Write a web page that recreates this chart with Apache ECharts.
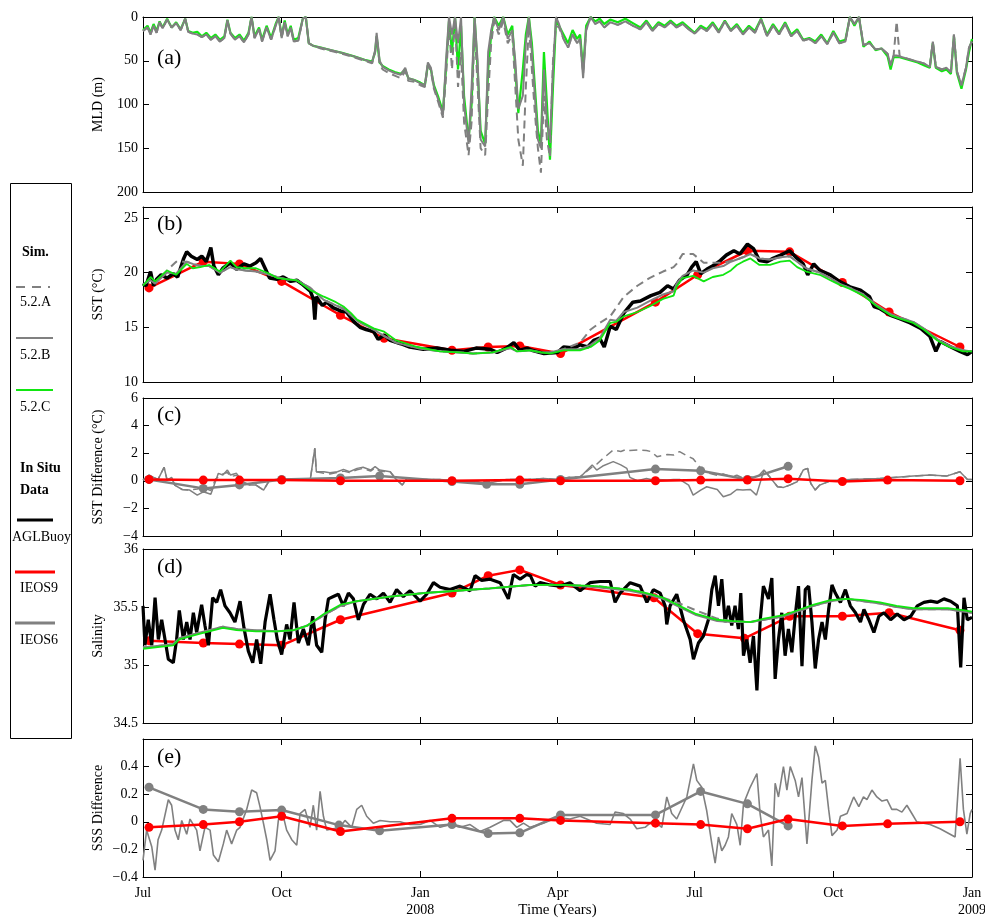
<!DOCTYPE html>
<html>
<head>
<meta charset="utf-8">
<script src="https://cdn.jsdelivr.net/npm/echarts@6/dist/echarts.min.js"></script>
<style>
html, body { margin: 0; padding: 0; background: #fff; }
#chart { width: 985px; height: 919px; }
</style>
</head>
<body>
<div id="chart"></div>
<script>
// all x values are days counted from 1 Jul 2007
var tickDays = [0, 92, 184, 275, 366, 458, 550];
var tickLabels = ['Jul', 'Oct', 'Jan\n2008', 'Apr', 'Jul', 'Oct', 'Jan\n2009'];

// (a) mixed layer depth, simulations 5.2.A / 5.2.B / 5.2.C
var mldDays = [0,3,5,7,9,11,13,16,19,22,
  25,28,30,33,36,39,42,45,48,51,
  54,56,58,61,64,67,70,72,74,77,
  79,82,85,88,90,92,94,96,98,100,
  103,106,108,110,113,118,125,132,140,147,
  152,154,155,157,159,163,167,171,174,176,
  180,184,187,189,191,193,196,199,201,203,
  205,207,209,211,213,216,218,220,222,224,
  227,229,231,233,236,239,242,245,247,249,
  252,254,256,258,260,262,264,266,268,270,
  272,274,276,279,282,285,288,290,292,294,
  297,300,303,306,310,315,320,325,330,334,
  338,342,346,350,354,358,362,366,370,374,
  378,382,386,390,394,398,402,406,410,414,
  418,422,426,430,434,438,442,446,450,454,
  458,462,466,469,472,475,478,482,486,490,
  494,496,498,500,502,506,510,514,518,522,
  524,526,530,533,536,538,540,543,546,548,
  550];
var mldC = [15,10,18,8,16,5,12,2,12,6,
  14,2,16,18,17,22,18,24,20,26,
  22,3,18,24,20,27,18,0,22,12,
  26,10,24,8,0,22,4,20,10,26,
  24,2,0,30,33,35,38,41,45,49,
  51,40,22,52,56,60,63,65,60,70,
  72,75,78,55,60,78,92,108,60,5,
  40,0,60,10,90,140,100,0,60,130,
  145,60,20,0,10,0,20,10,60,110,
  60,20,0,30,80,130,145,40,100,163,
  80,5,10,20,30,15,25,20,60,10,
  0,5,2,8,3,6,2,7,12,4,
  14,6,10,4,10,6,12,18,10,14,
  6,16,4,15,8,18,10,16,2,20,
  8,18,6,20,14,26,24,28,20,30,
  16,28,26,0,10,0,34,28,38,36,
  45,60,46,46,46,48,50,52,55,58,
  30,58,62,60,65,22,64,82,60,40,
  25];
var mldB = [16,12,20,10,18,6,13,3,12,7,
  15,2,17,19,20,23,20,26,22,28,
  24,4,19,26,22,29,20,0,24,14,
  28,12,26,10,0,24,6,22,12,28,
  27,2,0,30,33,35,38,41,45,49,
  52,38,18,50,57,61,64,66,58,70,
  72,76,78,52,58,80,95,112,50,0,
  20,0,30,0,100,145,80,0,50,140,
  148,40,15,0,15,0,25,15,50,105,
  90,30,0,40,90,140,150,60,120,140,
  60,0,8,25,35,20,30,25,70,15,
  0,8,5,12,6,9,5,10,14,6,
  16,8,12,6,12,8,14,19,12,16,
  8,18,5,16,10,20,12,18,3,22,
  10,20,8,22,16,27,25,30,22,31,
  18,30,28,0,8,0,32,30,37,36,
  42,55,44,44,45,47,49,51,53,57,
  28,57,60,58,63,20,62,78,58,35,
  28];
var mldA = [16,12,20,10,18,6,13,3,12,7,
  15,2,17,19,20,23,20,26,22,28,
  24,4,19,26,22,29,20,0,24,14,
  28,12,26,10,0,24,6,22,12,28,
  27,2,0,30,33,36,39,42,46,50,
  53,40,22,54,60,64,67,70,62,73,
  74,78,80,55,62,82,98,115,70,10,
  60,0,80,40,120,158,120,10,80,150,
  158,90,30,5,20,5,30,20,80,140,
  170,80,10,60,110,150,178,90,140,160,
  50,10,12,25,35,20,30,25,65,15,
  0,8,5,12,6,9,5,10,14,6,
  16,8,12,6,12,8,14,19,12,16,
  8,18,5,16,10,20,12,18,3,22,
  10,20,8,22,16,27,25,30,22,31,
  18,30,28,0,8,0,32,30,37,36,
  42,55,44,5,45,47,49,51,53,57,
  28,57,60,58,63,20,62,78,58,35,
  28];

// (b) sea surface temperature
var sstBuoyDays = [0,2,5,7,9,12,16,20,23,27,
  29,32,36,39,42,45,47,50,53,58,
  62,67,71,75,78,81,84,89,93,98,
  102,106,111,113,114,115,119,122,126,131,
  135,140,144,148,153,156,160,164,171,177,
  186,195,204,213,221,230,235,241,246,250,
  255,258,266,275,279,286,290,295,299,303,
  306,310,314,319,325,330,337,343,348,352,
  356,361,364,367,370,374,379,383,387,392,
  396,401,405,409,414,418,423,429,434,438,
  441,445,449,456,462,469,476,482,485,489,
  496,502,509,516,522,526,529,536,542,547,
  550];
var sstBuoy = [19.0,18.8,20.1,18.8,19.4,19.8,19.5,19.9,19.6,21.3,
  21.9,21.5,21.2,21.5,21.0,22.3,20.6,19.8,20.4,20.9,
  20.3,20.8,20.6,20.9,21.3,20.4,19.5,19.4,19.6,19.2,
  19.3,18.9,18.3,17.6,15.7,17.8,17.0,17.3,16.8,16.5,
  16.4,15.5,15.0,14.8,14.6,13.9,14.3,13.8,13.5,13.2,
  13.0,13.1,12.9,12.8,13.1,13.0,12.7,13.1,13.6,12.9,
  13.1,12.9,12.6,12.7,13.2,13.1,13.4,13.2,13.8,14.0,
  13.2,15.1,14.8,16.3,17.3,17.4,17.9,18.2,18.8,18.5,
  19.3,19.8,20.5,21.0,19.9,20.3,20.7,21.1,21.6,22.0,
  21.7,22.6,22.2,21.1,21.0,21.3,21.6,22.0,21.3,20.8,
  19.8,20.8,20.2,19.8,19.2,18.7,18.4,17.8,16.9,16.7,
  16.1,15.8,15.4,14.9,14.2,12.8,13.7,13.2,12.8,12.5,
  12.8];
var sstModelDays = [0,5,8,16,22,29,33,38,44,51,
  58,62,68,75,84,89,95,102,111,120,
  128,133,138,142,153,160,168,182,197,210,
  219,232,244,248,257,264,270,279,290,297,
  303,310,314,319,328,336,345,352,354,358,
  365,372,378,385,390,394,398,403,409,416,
  423,429,434,440,449,456,462,469,478,487,
  496,502,511,518,527,535,544,550];
var sstC = [18.8,19.6,19.2,20.2,19.8,20.8,20.4,20.5,20.7,20.1,
  21.1,20.5,20.4,20.4,19.9,19.5,19.4,19.3,18.4,17.8,
  17.3,16.9,16.3,15.7,14.9,14.6,13.8,13.2,12.8,12.7,
  12.6,12.7,13.2,12.8,12.9,12.7,12.6,12.9,12.9,13.2,
  13.8,15.4,15.5,16.0,16.4,16.9,17.6,17.9,18.7,19.5,
  19.7,19.2,19.6,19.8,20.2,20.7,21.0,21.3,20.7,20.7,
  21.0,21.1,20.5,20.1,19.8,19.3,18.9,18.5,17.9,16.9,
  16.1,15.8,15.4,14.8,13.8,13.2,12.8,12.8];
var sstB = [18.9,19.3,19.0,20.0,19.9,21.0,20.8,20.6,20.6,20.0,
  20.5,20.3,20.2,20.1,19.8,19.6,19.4,19.3,18.6,17.5,
  17.0,16.7,16.1,15.6,14.8,14.2,13.6,13.1,12.8,12.7,
  12.6,12.7,13.1,12.8,12.9,12.7,12.7,13.0,13.0,13.4,
  14.0,15.7,15.6,16.4,16.8,17.4,18.0,18.3,19.0,19.7,
  20.2,20.0,20.4,20.6,21.0,21.2,21.4,21.7,21.3,21.2,
  21.4,21.5,21.0,20.4,20.0,19.5,19.0,18.6,18.0,17.0,
  16.2,15.9,15.5,14.9,13.9,13.3,12.9,12.8];
var sstA = [18.9,19.4,19.0,20.2,21.0,21.0,20.8,20.6,20.6,20.0,
  20.5,20.3,20.2,20.1,19.8,19.6,19.4,19.3,18.6,17.5,
  17.0,16.7,16.1,15.6,14.8,14.2,13.6,13.1,12.8,12.7,
  12.6,12.7,13.1,12.8,12.9,12.7,12.7,13.0,13.6,14.8,
  15.4,16.0,16.8,17.8,18.8,19.5,20.1,20.5,20.8,21.7,
  21.7,20.9,20.9,20.9,21.1,21.2,21.4,21.7,21.3,21.2,
  21.4,21.5,21.0,20.4,20.0,19.5,19.0,18.6,18.0,17.0,
  16.2,15.9,15.5,14.9,13.9,13.3,12.9,12.8];
var sstIeos9Days = [4,40,64,92,131,160,205,229,250,277,340,368,401,429,464,495,542];
var sstIeos9 = [18.6,21.0,20.8,19.2,16.1,14.0,12.9,13.2,13.3,12.6,17.3,19.8,22.0,21.9,19.1,16.4,13.2];

// (c) SST difference
var sstdDays = [0,4,7,10,14,16,19,21,26,31,
  36,40,45,48,50,53,56,58,62,67,
  71,75,80,84,89,98,106,111,114,115,
  120,124,129,133,137,142,146,151,154,157,
  164,168,172,175,186,197,208,221,228,241,
  255,266,275,283,290,298,301,305,312,317,
  321,323,328,334,337,341,348,352,356,362,
  365,370,374,381,385,390,394,398,403,407,
  412,416,421,425,429,434,438,441,443,446,
  449,456,469,489,511,522,533,542,547,550];
var sstdB = [0.05,0.42,0.25,0.1,0.98,0.05,0.25,-0.31,-0.63,-0.67,
  -1.04,-0.8,-0.97,-0.07,0.54,0.42,0.78,0.42,0.54,-0.19,
  -0.31,-0.31,-0.67,0.05,0.1,0.1,0.1,0.1,2.36,0.66,
  0.66,0.59,0.66,0.83,0.66,0.9,0.98,0.78,1.02,0.78,
  0.66,0.1,-0.31,0.17,0.1,0.1,0.0,-0.07,-0.19,0.1,
  0.1,0.17,0.1,0.25,0.25,1.15,0.78,1.07,1.39,1.15,
  0.9,0.25,0.0,0.17,0.1,0.1,0.05,0.1,0.1,-0.31,
  -1.04,-0.67,-0.43,-0.63,-1.16,-0.97,-0.63,-0.67,-0.63,-1.04,
  0.78,0.25,-0.43,-0.48,-0.31,-0.07,0.78,0.9,-0.19,-0.67,
  -0.31,0.0,0.1,0.17,0.34,0.42,0.34,0.66,0.1,0.1];
var sstdA = [0.05,0.42,0.25,0.1,0.98,0.05,0.25,-0.31,-0.63,-0.67,
  -0.6,-0.5,-0.7,0.1,0.3,0.5,0.6,0.3,0.4,-0.1,
  -0.31,-0.31,-0.67,0.05,0.1,0.1,0.1,0.1,2.36,0.66,
  0.55,0.5,0.6,0.7,0.6,0.8,0.9,0.7,0.95,0.7,
  0.66,0.1,-0.31,0.17,0.1,0.1,0.0,-0.07,-0.19,0.1,
  0.1,0.17,0.1,0.25,0.3,1.0,1.2,1.6,2.24,2.12,
  2.29,2.2,2.24,2.19,2.12,1.75,1.9,1.87,2.12,1.75,
  1.6,0.9,0.6,0.4,0.5,0.3,0.4,0.2,0.3,0.2,
  0.78,0.25,-0.43,-0.48,-0.31,-0.07,0.78,0.9,-0.19,-0.67,
  -0.31,0.0,0.1,0.17,0.34,0.42,0.34,0.66,0.1,0.1];
var sstdIeos9Days = [4,40,64,92,131,205,250,277,340,370,401,428,464,494,542];
var sstdIeos9 = [0.1,0.05,0.05,0.05,0.0,0.0,0.05,0.0,0.0,0.05,0.05,0.15,-0.05,0.05,0.0];
var sstdIeos6Days = [4,40,64,92,131,157,205,228,250,277,340,370,401,428];
var sstdIeos6 = [0.1,-0.55,-0.3,0.1,0.2,0.35,-0.05,-0.25,-0.25,0.1,0.85,0.73,0.1,1.05];

// (d) salinity
var salBuoyDays = [0,1.3,3.5,5.8,8,10.2,12.4,14.6,16.8,20.1,
  22.3,24.1,26.8,29,31.2,33.4,35.6,38.9,41.1,43.4,
  46.2,48.9,51.5,54.4,57.7,61,64.4,67,69.9,72.8,
  75.4,78.1,81,84.3,86.9,89.1,92,95.3,97.5,100.2,
  103.1,106.4,109.7,112.6,115.2,118.6,120.8,123,126.3,129.6,
  132.9,136.3,139.6,142.9,146.2,150.6,155.1,159.5,163.9,168.3,
  172.7,177.2,183.8,188.2,192.7,197.1,203.7,210.4,217,220.3,
  224.7,230.3,236.9,242.4,245.7,250.2,254.6,
  257,260.1,263.5,270.1,276.7,283.3,290,296.6,303.3,309.9,
  313.2,316.5,323.2,329.8,334.3,338.6,343.1,346.4,347.5,349.7,
  354.1,358.5,363,365.2,368.5,371.8,375.1,377.4,379.6,381.8,
  384,386.2,388.4,390.6,392.8,395,396.6,398.4,400.6,402.8,
  405,407.3,409.4,411.6,415,417.2,419.4,421.6,423.8,426,
  428.2,430.5,432.7,434.9,437.2,439.4,441.6,443.8,446,448.2,
  450.5,452.7,454.9,457.1,459.3,462.7,466,469.3,472.7,476,
  478.3,481.6,484.9,488.2,491.6,496,500.4,504.9,509.3,513.7,
  518.1,522.6,527,531.4,535.8,540.3,542.5,544.7,546.9,550];
var salBuoy = [35.51,35.17,35.39,35.17,35.58,35.22,35.39,35.22,35.05,35.02,
  35.22,35.47,35.22,35.37,35.22,35.45,35.28,35.52,35.34,35.17,
  35.58,35.54,35.65,35.51,35.45,35.37,35.55,35.32,35.12,35.02,
  35.22,35.01,35.37,35.61,35.39,35.22,35.09,35.35,35.22,35.54,
  35.19,35.31,35.17,35.42,35.17,35.11,35.39,35.57,35.59,35.61,
  35.51,35.62,35.57,35.39,35.52,35.61,35.57,35.62,35.54,35.65,
  35.59,35.64,35.55,35.61,35.71,35.67,35.65,35.68,35.64,35.77,
  35.73,35.74,35.71,35.57,35.78,35.74,35.78,
  35.77,35.68,35.71,35.69,35.68,35.71,35.64,35.71,35.72,35.72,
  35.54,35.62,35.71,35.68,35.54,35.65,35.62,35.51,35.35,35.51,
  35.61,35.39,35.22,35.05,35.19,35.25,35.39,35.65,35.77,35.51,
  35.74,35.37,35.51,35.34,35.51,35.31,35.62,35.08,35.22,35.02,
  35.25,34.78,35.37,35.68,35.57,35.75,34.88,35.22,35.45,35.08,
  35.31,35.11,35.42,35.68,34.99,35.65,35.68,35.37,34.97,35.22,
  35.37,35.22,35.48,35.69,35.62,35.54,35.65,35.51,35.45,35.37,
  35.48,35.39,35.28,35.42,35.45,35.39,35.44,35.39,35.42,35.51,
  35.54,35.55,35.54,35.57,35.55,35.51,34.98,35.58,35.39,35.41];
var salModelDays = [0,14,20,24,38,53,62,75,89,100,
  109,120,131,142,164,186,208,230,257,279,
  301,323,334,345,356,367,381,390,403,412,
  425,434,445,456,467,478,489,500,511,523,
  534,545,550];
var salC = [35.14,35.16,35.17,35.22,35.27,35.32,35.30,35.29,35.29,35.30,
  35.34,35.44,35.52,35.55,35.59,35.62,35.64,35.66,35.69,35.69,
  35.68,35.65,35.62,35.58,35.51,35.44,35.39,35.38,35.37,35.40,
  35.43,35.47,35.52,35.56,35.57,35.56,35.54,35.51,35.49,35.49,
  35.49,35.47,35.46];
var salB = [35.15,35.17,35.18,35.23,35.28,35.33,35.31,35.30,35.29,35.30,
  35.34,35.43,35.51,35.55,35.59,35.62,35.64,35.66,35.69,35.69,
  35.67,35.64,35.61,35.57,35.50,35.43,35.38,35.37,35.37,35.39,
  35.42,35.46,35.51,35.55,35.57,35.55,35.53,35.50,35.48,35.48,
  35.48,35.46,35.45];
var salA = [35.15,35.17,35.18,35.23,35.28,35.33,35.31,35.30,35.29,35.30,
  35.34,35.43,35.51,35.55,35.59,35.62,35.64,35.66,35.69,35.69,
  35.68,35.65,35.62,35.58,35.53,35.47,35.40,35.38,35.37,35.39,
  35.42,35.46,35.51,35.55,35.57,35.55,35.53,35.50,35.48,35.48,
  35.48,35.46,35.45];
var salIeos9Days = [4,40,64,92,131,205,229,250,277,339,368,399,429,464,495,542];
var salIeos9 = [35.21,35.19,35.18,35.17,35.39,35.62,35.77,35.82,35.69,35.58,35.27,35.23,35.42,35.42,35.45,35.30];

// (e) SSS difference
var sssdDays = [0,2.4,5.8,8,10,12.4,16.8,19,21.2,23.4,
  25.7,29,31.2,35.6,37.8,41.1,44.5,46.7,50,53.3,
  55.5,58.8,62.2,64.4,68.8,72.1,75.4,77.6,79.9,82.1,
  84.3,87.6,89.8,92,95.3,98.7,102,104.2,107.5,110.8,
  113,115.2,117.5,119.7,121.9,126.3,130.7,134,138.5,141.8,
  145.1,148.4,152.8,157.3,163.9,170.5,177.2,183.8,190.4,197.1,
  203.7,210.4,217,223.6,230.3,239.1,243.5,248,252.4,
  256.8,265.6,274.5,283.3,290,301,309.9,313.2,318.7,323.2,
  327.6,333.1,338.6,344.2,347.5,350.8,354.1,360.8,365.2,367.4,
  370.7,374,377.4,379.6,381.8,384,386.2,388.4,390.6,394,
  396.2,398.4,402.8,407.3,409.4,411.6,415,417.2,419.4,421.6,
  424.9,427.2,429.4,432.7,434.9,437.2,440.5,443.8,446,448.2,
  450.5,452.7,454.9,457.1,460.5,462.7,467.1,471.5,474.9,478,
  480.3,483.6,486.9,490.3,493.6,496.8,500.1,503.5,506.8,510.1,
  513.4,517.8,522.2,528.8,535.5,538.8,542.1,544.3,546.6,548.8,
  550];
var sssd = [-0.28,-0.06,-0.18,-0.35,-0.13,-0.06,0.16,0.12,-0.06,-0.13,
  0.01,-0.09,0.02,-0.06,-0.21,-0.04,-0.06,-0.24,-0.29,-0.16,
  -0.06,-0.16,-0.06,-0.04,0.09,0.23,0.21,0.11,-0.01,-0.13,
  -0.28,-0.21,0.01,0.09,-0.06,-0.13,-0.17,0.06,0.09,-0.04,
  0.12,-0.06,0.22,0.04,-0.06,-0.05,-0.04,0.01,-0.04,0.09,
  0.12,0.04,-0.01,0.01,0.0,0.0,-0.02,-0.02,0.01,-0.04,
  -0.02,-0.04,-0.02,-0.07,-0.04,0.01,0.01,-0.04,-0.01,
  -0.04,-0.01,0.03,0.02,0.04,-0.01,-0.02,0.07,0.06,0.02,
  -0.05,-0.04,0.01,-0.04,0.18,0.06,0.02,0.18,0.42,0.30,
  0.25,0.08,-0.16,-0.30,-0.11,-0.21,-0.17,-0.11,0.06,-0.02,
  -0.17,0.13,0.25,0.35,0.06,-0.11,-0.06,-0.32,0.28,0.18,
  0.40,0.23,0.40,0.30,0.18,0.32,-0.16,0.30,0.55,0.47,
  0.28,0.30,0.09,-0.10,-0.06,0.04,0.06,0.18,0.11,0.18,
  0.16,0.23,0.18,0.15,0.16,0.09,0.09,0.07,0.12,0.06,
  0.0,-0.01,-0.02,-0.05,-0.09,-0.11,0.46,0.09,-0.09,0.06,
  0.09];
var sssdIeos9Days = [4,40,64,92,131,205,250,277,340,370,401,428,464,494,542];
var sssdIeos9 = [-0.04,-0.02,0.0,0.04,-0.07,0.025,0.025,0.01,-0.01,-0.02,-0.05,0.02,-0.03,-0.015,0.0];
var sssdIeos6Days = [4,40,64,92,130,157,205,229,250,277,340,370,401,428];
var sssdIeos6 = [0.25,0.09,0.073,0.085,-0.024,-0.065,-0.02,-0.085,-0.08,0.05,0.05,0.22,0.13,-0.03];

var yNames = ['MLD (m)', 'SST (°C)', 'SST Difference (°C)', 'Salinity', 'SSS Difference'];
var yMin = [0, 10, -4, 34.5, -0.4];
var yMax = [200, 26, 6, 36, 0.6];
var yStep = [50, 5, 2, 0.5, 0.2];
var yLabelMax = [200, 25, 6, 36, 0.4];
var panelTags = ['(a)', '(b)', '(c)', '(d)', '(e)'];

var FONT = '"Liberation Serif", "Times New Roman", serif';
var GRAY = '#808080', GREEN = '#11e611', RED = '#ff0000';

var gridTops = [17, 207, 398, 549, 739];
var gridHeights = [175, 175, 138, 174, 138];

function xy(days, vals) {
  return days.map(function (d, i) { return [d, vals[i]]; });
}

function yFormatter(i) {
  return function (v) {
    var k = v / yStep[i];
    if (Math.abs(k - Math.round(k)) > 1e-6 || v > yLabelMax[i] + 1e-9) return '';
    var s = String(Math.round(v * 100) / 100);
    return s.replace('-', '\u2212');
  };
}

var grids = [], xAxes = [], yAxes = [], series = [], graphics = [];

for (var i = 0; i < 5; i++) {
  grids.push({ left: 143, right: 13, top: gridTops[i], height: gridHeights[i], containLabel: false, outerBoundsMode: 'none' });

  var xBase = {
    type: 'value', gridIndex: i, min: 0, max: 550,
    axisLine: { show: true, onZero: false, lineStyle: { color: '#000', width: 1 } },
    axisTick: { show: true, inside: true, length: 6, customValues: tickDays, lineStyle: { color: '#000' } },
    splitLine: { show: false }
  };
  xAxes.push(Object.assign({}, xBase, {
    position: 'bottom',
    axisLabel: {
      show: i === 4, customValues: tickDays, showMinLabel: true, showMaxLabel: true, hideOverlap: false,
      margin: 8, fontFamily: FONT, fontSize: 14, color: '#000', lineHeight: 17,
      formatter: function (v) { var k = tickDays.indexOf(v); return k < 0 ? '' : tickLabels[k]; }
    },
    name: i === 4 ? 'Time (Years)' : '', nameLocation: 'middle', nameGap: 26, nameMoveOverlap: false,
    nameTextStyle: { fontFamily: FONT, fontSize: 15, color: '#000', verticalAlign: 'top' }
  }));
  xAxes.push(Object.assign({}, xBase, { position: 'top', axisLabel: { show: false } }));

  var yBase = {
    type: 'value', gridIndex: i, min: yMin[i], max: yMax[i], interval: yStep[i], inverse: i === 0,
    axisLine: { show: true, onZero: false, lineStyle: { color: '#000', width: 1 } },
    axisTick: { show: true, inside: true, length: 6, lineStyle: { color: '#000' } },
    splitLine: { show: false }
  };
  yAxes.push(Object.assign({}, yBase, {
    position: 'left',
    name: yNames[i], nameLocation: 'middle', nameGap: 38, nameMoveOverlap: false,
    nameTextStyle: { fontFamily: FONT, fontSize: 14, color: '#000' },
    axisLabel: { show: true, margin: 5, fontFamily: FONT, fontSize: 14, color: '#000', showMaxLabel: true, formatter: yFormatter(i) }
  }));
  yAxes.push(Object.assign({}, yBase, { position: 'right', axisLabel: { show: false } }));

  graphics.push({
    type: 'text', x: 157, y: [58, 224, 415, 567, 757][i],
    style: { text: panelTags[i], font: '22px ' + FONT, fill: '#000', align: 'left', verticalAlign: 'middle' }
  });
}

function line(panel, data, color, width, dash, z) {
  return {
    type: 'line', xAxisIndex: panel * 2, yAxisIndex: panel * 2, data: data,
    showSymbol: false, symbol: 'none', animation: false, z: z || 2,
    lineStyle: { color: color, width: width, type: dash ? [8, 5] : 'solid' }
  };
}
function dots(panel, data, color, z) {
  return {
    type: 'line', xAxisIndex: panel * 2, yAxisIndex: panel * 2, data: data,
    symbol: 'circle', symbolSize: 9, showSymbol: true, animation: false, z: z || 5,
    itemStyle: { color: color, borderWidth: 0 },
    lineStyle: { color: color, width: 2.5 }
  };
}

// (a)
series.push(line(0, xy(mldDays, mldC), GREEN, 2.2, false, 2));
series.push(line(0, xy(mldDays, mldA), GRAY, 2, true, 3));
series.push(line(0, xy(mldDays, mldB), GRAY, 2, false, 3));
// (b)
series.push(dots(1, xy(sstIeos9Days, sstIeos9), RED, 2));
series.push(line(1, xy(sstBuoyDays, sstBuoy), '#000', 3.5, false, 3));
series.push(line(1, xy(sstModelDays, sstA), GRAY, 2, true, 4));
series.push(line(1, xy(sstModelDays, sstB), GRAY, 2, false, 4));
series.push(line(1, xy(sstModelDays, sstC), GREEN, 1.8, false, 5));
// (c)
series.push(line(2, xy(sstdDays, sstdA), GRAY, 1.5, true, 2));
series.push(line(2, xy(sstdDays, sstdB), GRAY, 1.5, false, 2));
series.push(dots(2, xy(sstdIeos6Days, sstdIeos6), GRAY, 4));
series.push(dots(2, xy(sstdIeos9Days, sstdIeos9), RED, 5));
// (d)
series.push(dots(3, xy(salIeos9Days, salIeos9), RED, 2));
series.push(line(3, xy(salBuoyDays, salBuoy), '#000', 3.2, false, 3));
series.push(line(3, xy(salModelDays, salA), GRAY, 2, true, 4));
series.push(line(3, xy(salModelDays, salB), GRAY, 2, false, 4));
series.push(line(3, xy(salModelDays, salC), GREEN, 1.8, false, 5));
// (e)
series.push(line(4, xy(sssdDays, sssd), GRAY, 1.6, false, 2));
series.push(dots(4, xy(sssdIeos6Days, sssdIeos6), GRAY, 4));
series.push(dots(4, xy(sssdIeos9Days, sssdIeos9), RED, 5));

// legend box on the left
var legendFont = '14px ' + FONT, legendBold = 'bold 14px ' + FONT;
graphics.push({ type: 'rect', shape: { x: 10.5, y: 183.5, width: 61, height: 555 }, style: { fill: '#fff', stroke: '#000', lineWidth: 1 } });
function ltext(t, x, y, f) {
  graphics.push({ type: 'text', x: x, y: y, style: { text: t, font: f || legendFont, fill: '#000', align: 'left', verticalAlign: 'middle' } });
}
function lline(x1, x2, y, color, w, dash) {
  graphics.push({ type: 'line', shape: { x1: x1, y1: y, x2: x2, y2: y }, style: { stroke: color, lineWidth: w, lineDash: dash || null } });
}
ltext('Sim.', 22, 252, legendBold);
lline(16, 50, 287, GRAY, 2, [9, 7]);
ltext('5.2.A', 20, 302);
lline(16, 53, 338, GRAY, 2);
ltext('5.2.B', 20, 355);
lline(16, 53, 390, GREEN, 2);
ltext('5.2.C', 20, 407);
ltext('In Situ', 20, 468, legendBold);
ltext('Data', 20, 490, legendBold);
lline(17, 53, 520, '#000', 3);
ltext('AGLBuoy', 12, 537);
lline(15, 55, 572, RED, 3);
ltext('IEOS9', 20, 588);
lline(15, 55, 623, GRAY, 3);
ltext('IEOS6', 20, 640);

var chart = echarts.init(document.getElementById('chart'), null, { renderer: 'canvas' });
chart.setOption({
  backgroundColor: '#fff',
  animation: false,
  textStyle: { fontFamily: FONT },
  grid: grids,
  xAxis: xAxes,
  yAxis: yAxes,
  series: series,
  graphic: graphics
});
</script>
</body>
</html>
